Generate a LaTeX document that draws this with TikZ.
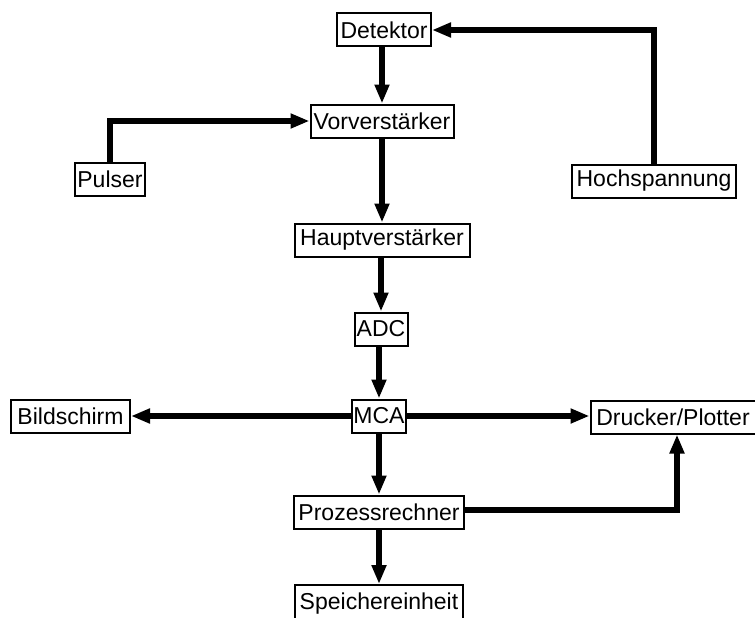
\documentclass[tikz,border=0pt]{standalone}
\usepackage{fontspec}
\setmainfont{Liberation Sans}
\usetikzlibrary{arrows.meta}
\begin{document}
\begin{tikzpicture}[x=1pt,y=-1pt,
  blk/.style={draw,line width=2pt,minimum height=33pt,inner sep=1pt,font=\fontsize{23}{26}\selectfont,anchor=center},
  conn/.style={line width=5.5pt,-{Triangle[length=19pt,width=14pt]}}]
\clip (0,0) rectangle (755,618);
\fill[white] (0,0) rectangle (755,618);
\node[blk,minimum width=94pt] (det) at (384,30) {Detektor};
\node[blk,minimum width=143pt] (vor) at (382,121) {Vorverstärker};
\node[blk,minimum width=70pt] (pul) at (110,179) {Pulser};
\node[blk,minimum width=164pt] (hoch) at (654,181) {Hochspannung};
\node[blk,minimum width=175pt] (haupt) at (382,240) {Hauptverstärker};
\node[blk,minimum width=53pt] (adc) at (381,329) {ADC};
\node[blk,minimum width=50pt] (mca) at (379,416) {MCA};
\node[blk,minimum width=119pt] (bild) at (70.5,416) {Bildschirm};
\node[blk,minimum width=165pt] (druck) at (673,417) {Drucker/Plotter};
\node[blk,minimum width=170pt] (proz) at (379,512) {Prozessrechner};
\node[blk,minimum width=168pt,minimum height=38pt] (speich) at (379,604) {Speichereinheit};
\draw[conn] (det.south -| vor.north) -- (vor.north);
\draw[conn] (pul.north) |- (vor.west);
\draw[conn] (hoch.north) |- (det.east);
\draw[conn] (vor.south) -- (haupt.north);
\draw[conn] (haupt.south -| adc.north) -- (adc.north);
\draw[conn] (adc.south -| mca.north) -- (mca.north);
\draw[conn] (mca.west) -- (bild.east);
\draw[conn] (mca.east) -- (druck.west |- mca.east);
\draw[conn] (mca.south) -- (proz.north);
\draw[conn] (proz.south) -- (speich.north);
\coordinate (dr) at ([xshift=4pt]druck.south);
\draw[conn] ([yshift=2pt]proz.east) -| (dr);
\end{tikzpicture}
\end{document}
